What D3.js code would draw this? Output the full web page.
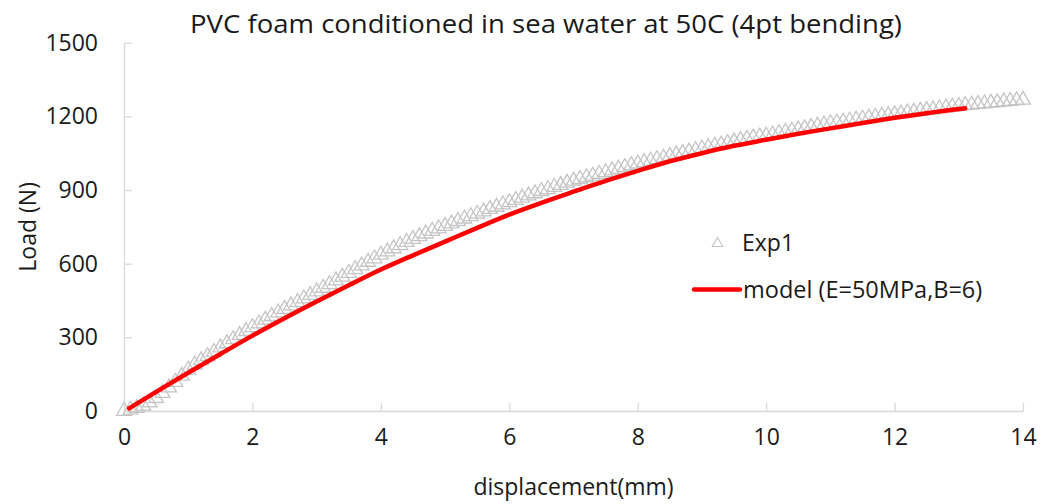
<!DOCTYPE html>
<html>
<head>
<meta charset="utf-8">
<script src="https://cdn.jsdelivr.net/npm/d3@7"></script>
<style>
  html, body { margin: 0; padding: 0; background: #fff; }
  svg text { font-family: "Open Sans", "Noto Sans", sans-serif; fill: #1a1a1a; }
</style>
</head>
<body>
<svg id="chart" width="1044" height="504"></svg>
<script>
// Four-point bending test: measured load vs. displacement and the fitted model curve.
const chartTitle = "PVC foam conditioned in sea water at 50C (4pt bending)";
const xTitle = "displacement(mm)";
const yTitle = "Load (N)";
const seriesNames = ["Exp1", "model (E=50MPa,B=6)"];

const xTicks = [0, 2, 4, 6, 8, 10, 12, 14];
const yTicks = [0, 300, 600, 900, 1200, 1500];

// Exp1: displacement (mm) every 0.1 mm and the measured load (N)
const expDisp = d3.range(0, 141).map(i => +(i * 0.1).toFixed(1));
const expLoad = [
  0, 5, 12, 21, 34, 52, 73, 95, 118, 143,
  168, 188, 206, 223, 240, 258, 275, 292, 309, 325,
  341, 356, 371, 386, 401, 415, 429, 443, 458, 472,
  486, 501, 516, 531, 546, 562, 577, 592, 607, 621,
  636, 649, 662, 675, 688, 700, 711, 722, 733, 743,
  753, 763, 773, 783, 793, 803, 812, 822, 831, 841,
  850, 859, 868, 877, 886, 895, 903, 912, 920, 929,
  937, 944, 951, 958, 965, 972, 979, 986, 993, 1000,
  1007, 1013, 1019, 1025, 1031, 1038, 1044, 1050, 1056, 1062,
  1068, 1074, 1080, 1085, 1091, 1097, 1103, 1108, 1113, 1117,
  1121, 1126, 1131, 1136, 1141, 1146, 1151, 1156, 1161, 1166,
  1171, 1174, 1178, 1182, 1186, 1190, 1194, 1197, 1201, 1204,
  1208, 1211, 1215, 1218, 1222, 1225, 1228, 1232, 1235, 1239,
  1242, 1245, 1247, 1250, 1252, 1255, 1257, 1260, 1262, 1265,
  1267
];

// Model prediction (E = 50 MPa, B = 6)
const modelDisp = [0.08, 0.5, 1, 1.5, 2, 2.5, 3, 3.5, 4, 4.5, 5, 5.5, 6, 6.5, 7, 7.5,
                   8, 8.5, 9, 9.5, 10, 10.5, 11, 11.5, 12, 12.5, 13, 13.1];
const modelLoad = [11, 78, 156, 232, 307, 378, 446, 512, 576, 634, 690, 746, 800, 848, 893, 937,
                   978, 1017, 1050, 1080, 1105, 1129, 1151, 1173, 1194, 1213, 1230, 1233];

const svg = d3.select("#chart");
const margin = { left: 124, right: 21, top: 42.7, bottom: 93 };
const W = 1044, H = 504;

const x = d3.scaleLinear().domain([0, 14]).range([margin.left, W - margin.right]);
const y = d3.scaleLinear().domain([0, 1500]).range([H - margin.bottom, margin.top]);

const axisColor = "#d9d9d9";
const fontStack = '"Open Sans", "Noto Sans", sans-serif';

// Axes: light grey lines with inward ticks
const xAxis = svg.append("g")
  .attr("transform", `translate(0,${y(0)})`)
  .call(d3.axisBottom(x).tickValues(xTicks).tickFormat(d3.format("d"))
    .tickSizeInner(-8).tickSizeOuter(0).tickPadding(18));
const yAxis = svg.append("g")
  .attr("transform", `translate(${x(0)},0)`)
  .call(d3.axisLeft(y).tickValues(yTicks).tickFormat(d3.format("d"))
    .tickSizeInner(-8).tickSizeOuter(0).tickPadding(26));

[xAxis, yAxis].forEach(g => {
  g.select(".domain").attr("stroke", axisColor).attr("stroke-width", 1.3);
  g.selectAll(".tick line").attr("stroke", axisColor).attr("stroke-width", 1.3);
  g.selectAll(".tick text").attr("font-size", 23).attr("fill", "#1a1a1a")
    .style("font-family", fontStack);
});
xAxis.selectAll(".tick").filter(d => d === 0).select("line").remove();
yAxis.selectAll(".tick").filter(d => d === 0).select("line").remove();

// Exp1 markers: hollow grey triangles, densely overlapping into a band
const tri = d3.symbol().type(d3.symbolTriangle).size(95);
svg.append("g").selectAll("path")
  .data(expDisp.map((d, i) => [d, expLoad[i]]))
  .join("path")
  .attr("d", tri)
  .attr("transform", d => `translate(${x(d[0])},${y(d[1])})`)
  .attr("fill", "none")
  .attr("stroke", "#c4c4c4")
  .attr("stroke-width", 1.3);

// Model curve
const line = d3.line().x(d => x(d[0])).y(d => y(d[1])).curve(d3.curveMonotoneX);
svg.append("path")
  .datum(modelDisp.map((d, i) => [d, modelLoad[i]]))
  .attr("d", line)
  .attr("fill", "none")
  .attr("stroke", "#ff0000")
  .attr("stroke-width", 4.5)
  .attr("stroke-linecap", "round");

// Titles
svg.append("text").attr("x", 546).attr("y", 33).attr("text-anchor", "middle")
  .attr("font-size", 25.5).attr("textLength", 712).attr("lengthAdjust", "spacingAndGlyphs")
  .text(chartTitle);
svg.append("text").attr("x", x(7)).attr("y", 495).attr("text-anchor", "middle")
  .attr("font-size", 23).text(xTitle);
svg.append("text").attr("transform", `translate(36,${(y(0) + y(1500)) / 2}) rotate(-90)`)
  .attr("text-anchor", "middle").attr("font-size", 23).text(yTitle);

// Legend
const legend = svg.append("g");
legend.append("path").attr("d", d3.symbol().type(d3.symbolTriangle).size(48))
  .attr("transform", "translate(717.5,243.5)")
  .attr("fill", "none").attr("stroke", "#c4c4c4").attr("stroke-width", 1.1);
legend.append("text").attr("x", 742).attr("y", 251).attr("font-size", 23).text(seriesNames[0]);
legend.append("line").attr("x1", 694).attr("x2", 740).attr("y1", 289.5).attr("y2", 289.5)
  .attr("stroke", "#ff0000").attr("stroke-width", 4.5).attr("stroke-linecap", "round");
legend.append("text").attr("x", 743).attr("y", 298).attr("font-size", 23.5).text(seriesNames[1]);
</script>
</body>
</html>
